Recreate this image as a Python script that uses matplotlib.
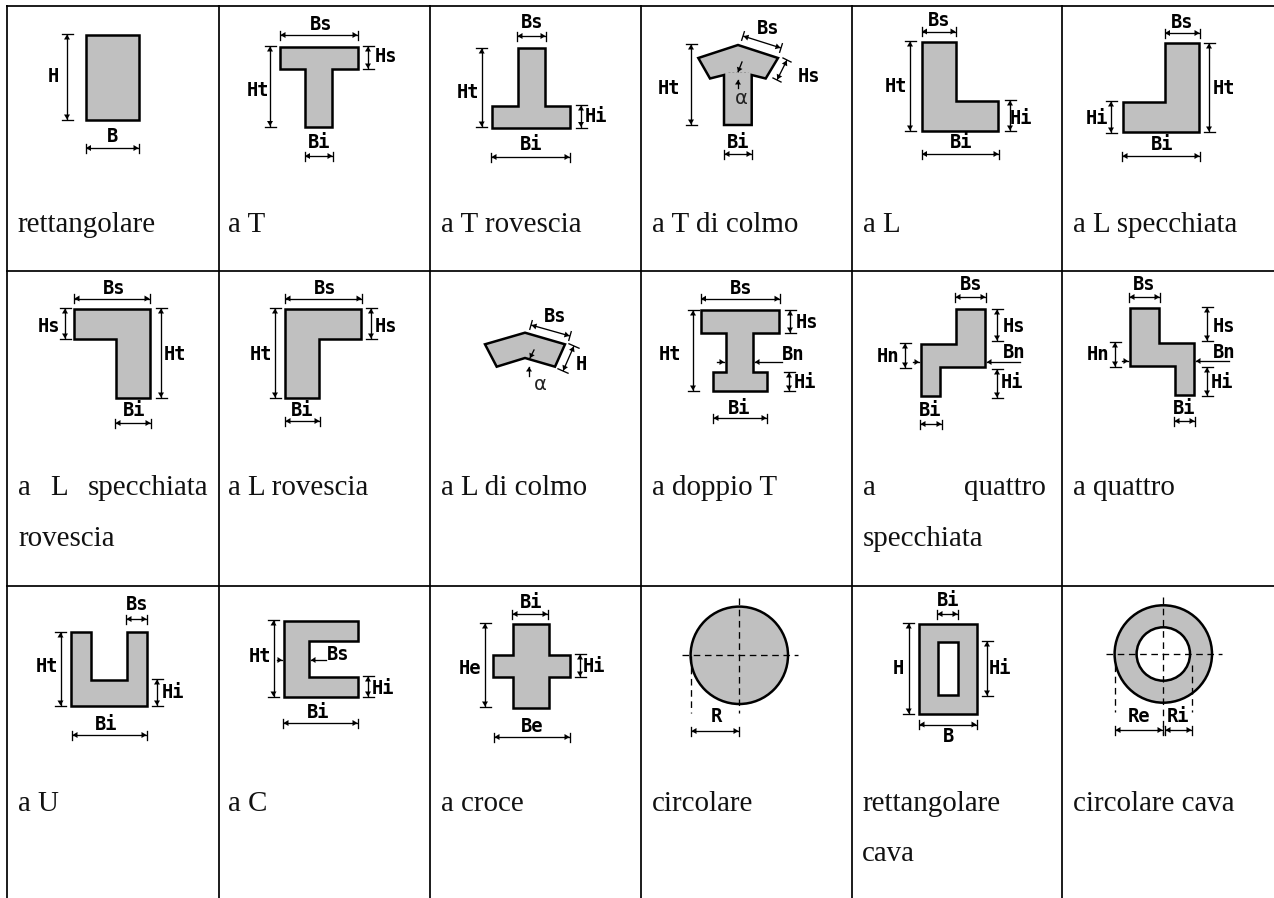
import numpy as np
import matplotlib
matplotlib.use("Agg")
import matplotlib.pyplot as plt
from matplotlib.patches import Polygon, Circle

# ---- table layout / text
grid_x = [7, 218.5, 429.5, 641, 852, 1062]
grid_y = [6, 271, 586]
captions = [
    ("rettangolare", 17.5, 232), ("a T", 228, 232), ("a T rovescia", 441, 232),
    ("a T di colmo", 652, 232), ("a L", 863, 232), ("a L specchiata", 1073, 232),
    ("a", 18, 495), ("L", 50, 495), ("specchiata", 88, 495), ("rovescia", 18, 546.5),
    ("a L rovescia", 228, 495), ("a L di colmo", 441, 495), ("a doppio T", 652, 495),
    ("a", 863, 495), ("quattro", 964, 495), ("specchiata", 863, 546.5),
    ("a quattro", 1073, 495),
    ("a U", 18, 811), ("a C", 228, 811), ("a croce", 441, 811), ("circolare", 652, 811),
    ("rettangolare", 862, 811), ("cava", 862, 861), ("circolare cava", 1073, 811),
]

# ---- section outlines
polygons = [
    [(85.5,35),(139,35),(139,120),(85.5,120)],
    [(280,46.7),(358,46.7),(358,69),(332,69),(332,126.7),(304.7,126.7),(304.7,69),(280,69)],
    [(518,48.3),(545.3,48.3),(545.3,106),(569.7,106),(569.7,127.7),(491.7,127.7),(491.7,106),(518,106)],
    [(738,45),(778,58),(765.7,78.5),(751.7,75),(751.7,125),(724,125),(724,75),(710,78.5),(698.3,58)],
    [(921.7,42.3),(956,42.3),(956,101),(998,101),(998,131),(921.7,131)],
    [(1165,43.3),(1199.3,43.3),(1199.3,132.3),(1123.3,132.3),(1123.3,102.3),(1165,102.3)],
    [(74,309),(150,309),(150,398.3),(116,398.3),(116,339),(74,339)],
    [(285.3,309),(361.3,309),(361.3,339),(319,339),(319,398.3),(285.3,398.3)],
    [(485,344.3),(525,332.7),(565,344.3),(555,366.7),(525,358),(496.7,366.7)],
    [(700.7,310),(779.3,310),(779.3,333.3),(753.3,333.3),(753.3,372.3),(766.7,372.3),(766.7,391),
     (713.3,391),(713.3,372.3),(726,372.3),(726,333.3),(700.7,333.3)],
    [(956,309),(985,309),(985,367.3),(940,367.3),(940,396),(920.7,396),(920.7,344),(956,344)],
    [(1130,308.3),(1158.7,308.3),(1158.7,343.3),(1194,343.3),(1194,395),(1175,395),(1175,366),(1130,366)],
    [(70.7,632.3),(90.7,632.3),(90.7,680),(127.3,680),(127.3,632.3),(147,632.3),(147,706),(70.7,706)],
    [(284,621),(358.3,621),(358.3,640.7),(308.7,640.7),(308.7,677.3),(358.3,677.3),(358.3,697.3),(284,697.3)],
    [(512.7,624),(548.7,624),(548.7,654.7),(569.7,654.7),(569.7,677.3),(548.7,677.3),(548.7,708),
     (512.7,708),(512.7,677.3),(493.3,677.3),(493.3,654.7),(512.7,654.7)],
    [(919,624),(977.3,624),(977.3,714.3),(919,714.3)],
]
hole_rect = [(938,641.7),(958.3,641.7),(958.3,695),(938,695)]
circle_solid = (739.3, 655.3, 48.7)
circle_ring = (1163.3, 654, 48.7, 26.7)

# ---- dimension lines: start, end
dims = [
    ((67,34),(67,120)), ((85.5,148),(139,148)),
    ((280,35),(358,35)), ((368,46),(368,69)), ((270,46),(270,126.5)), ((304.5,156),(333,156)),
    ((517,36),(546,36)), ((481.7,48),(481.7,127)), ((581,105),(581,127.5)), ((491,157),(570,157)),
    ((743,36),(781,48)), ((787,60),(777,80)), ((691,44),(691,125)), ((724,154),(752,154)),
    ((921.5,31.5),(956,31.5)), ((910,41),(910,131)), ((1010,100),(1010,131)), ((921.5,154),(999,154)),
    ((1164.5,33),(1200,33)), ((1209,43),(1209,132)), ((1111,101),(1111,133)), ((1122,156),(1200,156)),
    ((74,298.5),(150,298.5)), ((161,308),(161,398)), ((65,308),(65,339)), ((115,423),(151,423)),
    ((285,298.5),(362,298.5)), ((275,308),(275,398)), ((371,308),(371,339)), ((285,421),(320,421)),
    ((531,325),(570,336)), ((574,346),(563,371)),
    ((700.5,298.7),(780,298.7)), ((693,310),(693,391)), ((790,310),(790,333)), ((789,372),(789,391)), ((713,418),(767,418)),
    ((955,297),(986,297)), ((997,309),(997,341)), ((997,369),(997,398)), ((905,343),(905,368)), ((920,424),(942,424)),
    ((1129,297),(1160,297)), ((1207,307),(1207,341)), ((1207,367),(1207,396)), ((1115,342),(1115,367)), ((1174,421),(1195,421)),
    ((126,619),(147,619)), ((60.5,632),(60.5,706)), ((157,679),(157,706)), ((72,735),(147,735)),
    ((273.5,620),(273.5,697)), ((368,676),(368,697)), ((283,723),(358,723)),
    ((512,614),(548,614)), ((485,623),(485,707)), ((580,654),(580,677)), ((494,737),(570,737)),
    ((691,731),(739,731)),
    ((937,614),(958,614)), ((908.7,623),(908.7,714)), ((987,641),(987,696)), ((919,724.5),(977,724.5)),
    ((1115,730),(1163,730)), ((1165,730),(1192,730)),
]
# leader arrows: tail, tip
leaders = [
    ((782,362),(755,362)), ((717,362),(724,362)),
    ((1020,362),(987,362)), ((913,362),(919,362)),
    ((1229,361),(1196,361)), ((1122,361),(1128,361)),
    ((277,660),(282,660)), ((326,660),(311,660)),
    ((738,88),(738,80)), ((742,62),(738,72)),
    ((529,376),(529,367)), ((534,350),(530,358)),
]
# dashed centre lines
dashes = [
    ((682,655.3),(798,655.3)), ((739.3,598),(739.3,713)), ((691,656),(691,713)),
    ((1106,654),(1222,654)), ((1163.3,597),(1163.3,735)), ((1115,665),(1115,712)), ((1192,665),(1192,712)),
]
dim_labels = [
    ("H",53,76), ("B",112,137),
    ("Bs",321,25), ("Hs",386,57), ("Ht",258,90), ("Bi",319,143),
    ("Bs",532,23), ("Ht",468,92), ("Hi",596,117), ("Bi",531,145),
    ("Bs",768,29), ("Hs",809,77), ("Ht",669,89), ("Bi",738,142),
    ("Bs",939,21), ("Ht",896,87), ("Hi",1021,119), ("Bi",961,143),
    ("Bs",1182,22), ("Ht",1224,88), ("Hi",1097,118), ("Bi",1162,145),
    ("Bs",114,288), ("Ht",175,355), ("Hs",49,327), ("Bi",134,411),
    ("Bs",325,288), ("Ht",261,354), ("Hs",386,326), ("Bi",302,411),
    ("Bs",555,317), ("H",581,364),
    ("Bs",741,288), ("Ht",670,354), ("Hs",807,322), ("Bn",793,354), ("Hi",805,382), ("Bi",739,408),
    ("Bs",971,285), ("Hs",1014,327), ("Bn",1014,353), ("Hi",1012,383), ("Hn",888,356), ("Bi",930,410),
    ("Bs",1144,285), ("Hs",1224,326), ("Bn",1224,352), ("Hi",1222,382), ("Hn",1098,355), ("Bi",1184,408),
    ("Bs",137,605), ("Ht",47,667), ("Hi",173,693), ("Bi",106,725),
    ("Ht",260,657), ("Bs",338,655), ("Hi",383,689), ("Bi",318,713),
    ("Bi",531,602), ("He",470,669), ("Hi",594,666), ("Be",532,726),
    ("R",716,717),
    ("Bi",948,600), ("H",898,668), ("Hi",1000,668), ("B",948,737),
    ("Re",1139,717), ("Ri",1178,717),
]
alpha_labels = [(741,98), (540,384)]

FILL = "#c0c0c0"
plt.rcParams["font.family"] = ["Liberation Serif", "DejaVu Serif"]
fig = plt.figure(figsize=(12.74, 8.98), dpi=100)
ax = fig.add_axes([0, 0, 1, 1])
ax.set_xlim(0, 1274)
ax.set_ylim(898, 0)
ax.axis("off")

def arrowhead(tip, u, size=5, half=3.0):
    n = np.array([-u[1], u[0]])
    tip = np.array(tip, float)
    base = tip - u * size
    ax.add_patch(Polygon([tip, base + n * half, base - n * half], closed=True, fc="k", ec="none", zorder=5))

def dim(a, b):
    a = np.array(a, float)
    b = np.array(b, float)
    u = (b - a) / np.linalg.norm(b - a)
    n = np.array([-u[1], u[0]])
    ax.plot([a[0], b[0]], [a[1], b[1]], color="k", lw=0.95, zorder=4, solid_capstyle="butt")
    t = 5.5 if abs(u[1]) > 0.9 else 4.5
    for p in (a, b):
        ax.plot([p[0]-n[0]*t, p[0]+n[0]*t], [p[1]-n[1]*t, p[1]+n[1]*t], color="k", lw=0.95, zorder=4)
    # heads sit just inside each end and point outward
    arrowhead(a + u * 0.5, -u)
    arrowhead(b - u * 0.5, u)

# grid
for x in grid_x:
    ax.plot([x, x], [5, 898], color="k", lw=1.25, solid_capstyle="butt", zorder=2)
for y in grid_y:
    ax.plot([6, 1274], [y, y], color="k", lw=1.25, solid_capstyle="butt", zorder=2)

# sections
for pts in polygons:
    ax.add_patch(Polygon(pts, closed=True, fc=FILL, ec="k", lw=1.8, joinstyle="miter", zorder=3))
ax.add_patch(Polygon(hole_rect, closed=True, fc="white", ec="k", lw=1.8, joinstyle="miter", zorder=3.5))
cx, cy, r = circle_solid
ax.add_patch(Circle((cx, cy), r, fc=FILL, ec="k", lw=1.8, zorder=3))
cx, cy, ro, ri = circle_ring
ax.add_patch(Circle((cx, cy), ro, fc=FILL, ec="k", lw=1.8, zorder=3))
ax.add_patch(Circle((cx, cy), ri, fc="white", ec="k", lw=1.8, zorder=3.5))

for a, b in dims:
    dim(a, b)
for a, b in leaders:
    a = np.array(a, float)
    b = np.array(b, float)
    u = (b - a) / np.linalg.norm(b - a)
    ax.plot([a[0], b[0]], [a[1], b[1]], color="k", lw=0.95, zorder=5)
    arrowhead(b, u, size=4.5)
for a, b in dashes:
    ax.plot([a[0], b[0]], [a[1], b[1]], color="k", lw=0.95, zorder=5, dashes=(5, 3.5))

ax.plot([728, 748], [72, 72], color="#999999", lw=0.7, dashes=(2, 2), zorder=5)

for s, x, y in dim_labels:
    ax.text(x, y, s, family="DejaVu Sans Mono", weight="bold", fontsize=13.5,
            ha="center", va="center", color="k", zorder=6)
for x, y in alpha_labels:
    ax.text(x, y, "\u03b1", family="DejaVu Sans", fontsize=14, ha="center", va="center", color="#222222", zorder=6)
for s, x, y in captions:
    ax.text(x, y, s, fontsize=20.9, ha="left", va="baseline", color="#111111", zorder=6)

fig.savefig("out.png", dpi=100)
